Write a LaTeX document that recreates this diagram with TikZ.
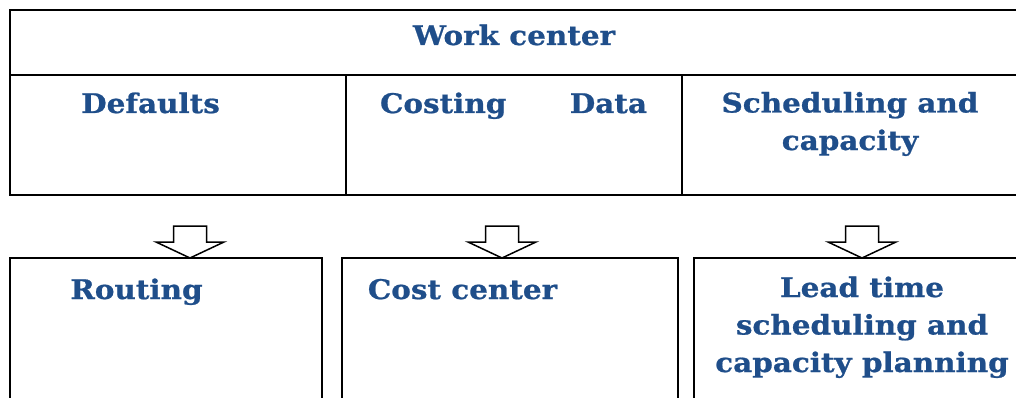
\documentclass[tikz,border=0pt]{standalone}
\usepackage{fontspec}
\setmainfont{DejaVu Serif}[FakeStretch=1.09,BoldFeatures={FakeBold=0.8}]
\usetikzlibrary{positioning}
\definecolor{wcblue}{RGB}{31,78,138}

% down-pointing block arrow with its tip at #1
\newcommand{\flowarrow}[1]{\draw[blockarrow] (#1) -- ++(-34,-16) -- ++(17.5,0) -- ++(0,-16) -- ++(33,0) -- ++(0,16) -- ++(17.5,0) -- cycle;}

\begin{document}
\begin{tikzpicture}[x=1pt,y=-1pt]
\tikzstyle{every node}=[outer sep=0,inner sep=0]
\tikzstyle{cell}=[draw,line width=2.2,rectangle,minimum width=336,minimum height=120]
\tikzstyle{box}=[draw,line width=2.2,rectangle,minimum height=170,anchor=north west]
\tikzstyle{caption}=[text=wcblue,font=\fontsize{27}{37.5}\selectfont\bfseries,align=center,anchor=base]
\tikzstyle{blockarrow}=[draw,line width=1.5,fill=white,line join=miter]

\useasboundingbox (0,0) rectangle (1016,398);

% work center table
\node[draw,line width=2.2,minimum width=1008,minimum height=65] (wc) at (514,42.5) {};
\node[cell,anchor=north west] (defaults) at (wc.south west) {};
\node[cell,right=0 of defaults] (costing) {};
\node[cell,right=0 of costing] (scheduling) {};

% objects it passes data to
\node[box,minimum width=312] (routing) at (10,258) {};
\node[box,minimum width=336] (costcenter) at (342,258) {};
\node[box,minimum width=336] (leadtime) at (694,258) {};

\coordinate (tip1) at (190,258);
\coordinate (tip2) at (502,258);
\coordinate (tip3) at (862,258);
\flowarrow{tip1}
\flowarrow{tip2}
\flowarrow{tip3}

% texts (base of a multi-line node is its last line)
\node[caption] (wctext) at (514,45) {Work center};
\node[caption] (defaultstext) at (150.5,113) {Defaults};
\node[caption,text width=267,align=left] (costingtext) at (513.5,113) {Costing\hfill Data};
\node[caption] (schedulingtext) at (850,150) {Scheduling and\\capacity};
\node[caption] (routingtext) at (136.5,299) {Routing};
\node[caption] (costcentertext) at (462.5,299) {Cost center};
\node[caption] (leadtimetext) at (862,372) {Lead time\\scheduling and\\capacity planning};
\end{tikzpicture}
\end{document}
